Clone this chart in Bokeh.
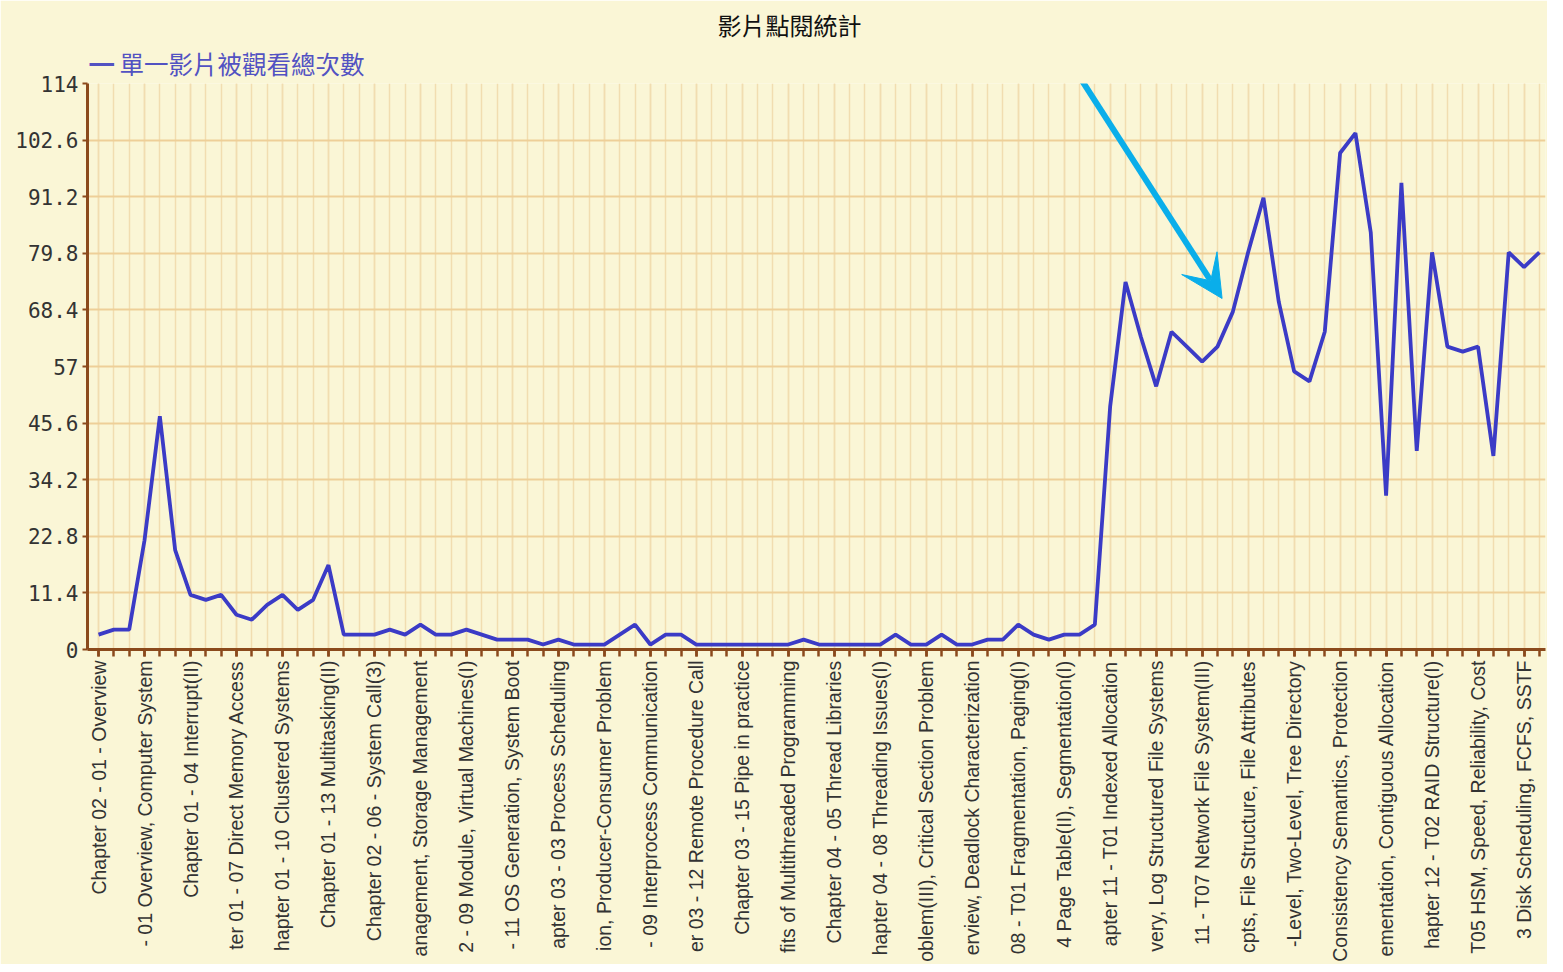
import numpy as np
from bokeh.plotting import figure
from bokeh.models import (FixedTicker, Range1d, Title, Arrow, VeeHead)
from bokeh.embed import file_html
from bokeh.resources import INLINE

title_text = "影片點閱統計"
series_name = "單一影片被觀看總次數"

# visible (clipped) tick labels, one for every 3rd video
tick_labels = [
    "Chapter 02 - 01 - Overview",
    "- 01 Overview, Computer System",
    "Chapter 01 - 04 Interrupt(II)",
    "ter 01 - 07 Direct Memory Access",
    "hapter 01 - 10 Clustered Systems",
    "Chapter 01 - 13 Multitasking(II)",
    "Chapter 02 - 06 - System Call(3)",
    "anagement, Storage Management",
    "2 - 09 Module, Virtual Machines(I)",
    "- 11 OS Generation, System Boot",
    "apter 03 - 03 Process Scheduling",
    "ion, Producer-Consumer Problem",
    "- 09 Interprocess Communication",
    "er 03 - 12 Remote Procedure Call",
    "Chapter 03 - 15 Pipe in practice",
    "fits of Multithreaded Programming",
    "Chapter 04 - 05 Thread Libraries",
    "hapter 04 - 08 Threading Issues(I)",
    "oblem(III), Critical Section Problem",
    "erview, Deadlock Characterization",
    "08 - T01 Fragmentation, Paging(I)",
    "4 Page Table(II), Segmentation(I)",
    "apter 11 - T01 Indexed Allocation",
    "very, Log Structured File Systems",
    "11 - T07 Network File System(III)",
    "cpts, File Structure, File Attributes",
    "-Level, Two-Level, Tree Directory",
    "Consistency Semantics, Protection",
    "ementation, Contiguous Allocation",
    "hapter 12 - T02 RAID Structure(I)",
    "T05 HSM, Speed, Reliability, Cost",
    "3 Disk Scheduling, FCFS, SSTF",
]
label_step = 3

views = [
    3, 4, 4, 22, 47, 20, 11, 10, 11, 7, 6, 9, 11, 8, 10, 17,
    3, 3, 3, 4, 3, 5, 3, 3, 4, 3, 2, 2, 2, 1, 2, 1,
    1, 1, 3, 5, 1, 3, 3, 1, 1, 1, 1, 1, 1, 1, 2, 1,
    1, 1, 1, 1, 3, 1, 1, 3, 1, 1, 2, 2, 5, 3, 2, 3,
    3, 5, 49, 74, 63, 53, 64, 61, 58, 61, 68, 80, 91, 70, 56, 54,
    64, 100, 104, 84, 31, 94, 40, 80, 61, 60, 61, 39, 80, 77, 80,
]

y_ticks = [0, 11.4, 22.8, 34.2, 45.6, 57, 68.4, 79.8, 91.2, 102.6, 114]
y_tick_labels = ["0", "11.4", "22.8", "34.2", "45.6", "57", "68.4", "79.8", "91.2", "102.6", "114"]

# annotation arrow (data coordinates)
arrow_start = (60.8, 130.7)
arrow_end = (73.3, 70.7)

BG = "#FAF6D6"
BROWN = "#8B4A1C"
LINE = "#3B3BC6"
CYAN = "#0AAEEA"

FRAME_W, FRAME_H = 1458, 566

x = list(range(len(views)))

p = figure(frame_width=FRAME_W, frame_height=FRAME_H,
           x_range=Range1d(-0.72, len(views) - 0.6), y_range=Range1d(0, 114),
           output_backend="svg", toolbar_location=None,
           min_border_left=87, min_border_right=2, min_border_top=83, min_border_bottom=300,
           background_fill_color=BG, border_fill_color=BG, outline_line_color=None)

line = p.line(x, views, line_color=LINE, line_width=3.8)

# series key, shown above the plot frame (line symbol + series name)
key = Title(text="━ " + series_name, align="left", offset=2, standoff=5,
            text_font="Noto Sans CJK TC", text_font_size="24.5px",
            text_font_style="normal", text_color="#5252C2")
p.add_layout(key, "above")

p.title.text = title_text
p.title.align = "left"
p.title.offset = 630
p.title.standoff = 0
p.title.text_font = "Noto Sans CJK TC"
p.title.text_font_size = "24px"
p.title.text_font_style = "normal"
p.title.text_color = "#111111"

# x axis
p.xaxis.ticker = FixedTicker(ticks=list(range(0, len(views), label_step)), minor_ticks=x)
p.xaxis.major_label_overrides = {i * label_step: lab for i, lab in enumerate(tick_labels)}
p.xaxis.major_label_orientation = np.pi / 2
p.xaxis.major_label_text_font = "Liberation Sans"
p.xaxis.major_label_text_font_size = "19.5px"
p.xaxis.major_label_text_color = "#333333"
p.xaxis.major_label_standoff = 4
p.xaxis.axis_line_color = BROWN
p.xaxis.axis_line_width = 3
p.xaxis.major_tick_line_color = BROWN
p.xaxis.minor_tick_line_color = BROWN
p.xaxis.major_tick_line_width = 2.5
p.xaxis.minor_tick_line_width = 2.5
p.xaxis.major_tick_in = 0
p.xaxis.major_tick_out = 7
p.xaxis.minor_tick_in = 0
p.xaxis.minor_tick_out = 7

# y axis
p.yaxis.ticker = FixedTicker(ticks=y_ticks, minor_ticks=[])
p.yaxis.major_label_overrides = {t: s for t, s in zip(y_ticks, y_tick_labels)}
p.yaxis.major_label_text_font = "DejaVu Sans Mono"
p.yaxis.major_label_text_font_size = "21px"
p.yaxis.major_label_text_color = "#333333"
p.yaxis.axis_line_color = BROWN
p.yaxis.axis_line_width = 3
p.yaxis.major_tick_line_color = BROWN
p.yaxis.major_tick_line_width = 2
p.yaxis.major_tick_in = 0
p.yaxis.major_tick_out = 5
p.yaxis.major_label_standoff = 4

# grids
p.xgrid.grid_line_color = "#F1DDB0"
p.xgrid.minor_grid_line_color = "#F1DDB0"
p.xgrid.grid_line_width = 1.5
p.xgrid.minor_grid_line_width = 1.5
p.ygrid.grid_line_color = "#EECF98"
p.ygrid.grid_line_width = 2

p.add_layout(Arrow(end=VeeHead(size=42, fill_color=CYAN, line_color=CYAN),
                   x_start=arrow_start[0], y_start=arrow_start[1],
                   x_end=arrow_end[0], y_end=arrow_end[1],
                   line_color=CYAN, line_width=6, level="overlay"))

open("out.html", "w").write(file_html(p, INLINE))
